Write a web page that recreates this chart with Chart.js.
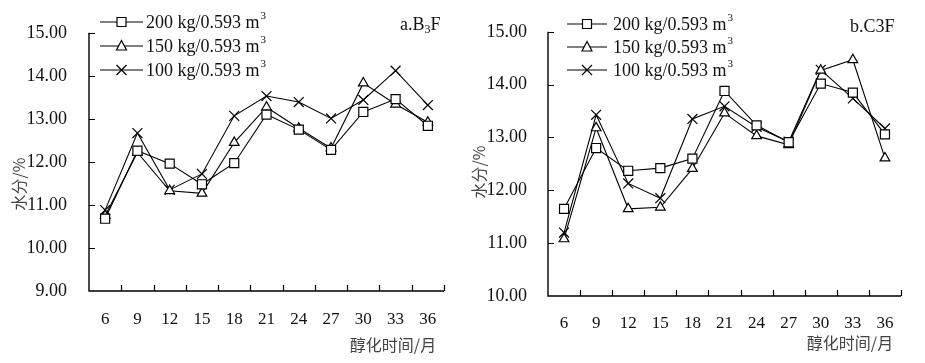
<!DOCTYPE html>
<html>
<head>
<meta charset="utf-8">
<script src="https://cdn.jsdelivr.net/npm/chart.js@4/dist/chart.umd.min.js"></script>
<style>
  body { margin: 0; background: #fff; }
  #wrap { position: relative; width: 925px; height: 363px; }
  .box { position: absolute; top: 0; height: 363px; }
  #boxA { left: 0; width: 460px; }
  #boxB { left: 460px; width: 465px; }
</style>
</head>
<body>
<div id="wrap">
  <div class="box" id="boxA"><canvas id="chartA"></canvas></div>
  <div class="box" id="boxB"><canvas id="chartB"></canvas></div>
</div>
<script>
// 醇化时间（月）
const MONTHS = ['6', '9', '12', '15', '18', '21', '24', '27', '30', '33', '36'];
const SERIES_NAMES = ['200 kg/0.593 m', '150 kg/0.593 m', '100 kg/0.593 m'];
const POINT_STYLES = ['rect', 'triangle', 'crossRot'];

// a.B3F 水分/%
const B3F_200 = [10.68, 12.26, 11.96, 11.48, 11.97, 13.10, 12.75, 12.28, 13.16, 13.46, 12.84];
const B3F_150 = [10.75, 12.22, 11.33, 11.27, 12.45, 13.27, 12.78, 12.32, 13.83, 13.34, 12.92];
const B3F_100 = [10.88, 12.67, 11.35, 11.72, 13.07, 13.53, 13.39, 13.01, 13.44, 14.12, 13.32];

// b.C3F 水分/%
const C3F_200 = [11.65, 12.80, 12.37, 12.42, 12.60, 13.88, 13.23, 12.91, 14.02, 13.85, 13.06];
const C3F_150 = [11.08, 13.18, 11.65, 11.68, 12.41, 13.46, 13.03, 12.86, 14.27, 14.47, 12.61];
const C3F_100 = [11.20, 13.43, 12.13, 11.85, 13.35, 13.59, 13.20, 12.92, 14.28, 13.74, 13.17];

const SERIF = '"Liberation Serif", "DejaVu Serif", serif';
const CJK = '"Noto Sans CJK SC", sans-serif';

function drawMarker(ctx, style, x, y) {
  ctx.save();
  ctx.strokeStyle = '#000';
  ctx.fillStyle = '#fff';
  ctx.lineWidth = 1.2;
  ctx.beginPath();
  if (style === 'rect') {
    ctx.rect(x - 4.5, y - 4.5, 9, 9);
    ctx.fill();
    ctx.stroke();
  } else if (style === 'triangle') {
    ctx.moveTo(x, y - 5.5);
    ctx.lineTo(x + 5, y + 4);
    ctx.lineTo(x - 5, y + 4);
    ctx.closePath();
    ctx.fill();
    ctx.stroke();
  } else {
    ctx.moveTo(x - 5, y - 5);
    ctx.lineTo(x + 5, y + 5);
    ctx.moveTo(x + 5, y - 5);
    ctx.lineTo(x - 5, y + 5);
    ctx.stroke();
  }
  ctx.restore();
}

function decorPlugin(cfg) {
  return {
    id: 'decor',
    afterDraw(chart) {
      const ctx = chart.ctx;
      const area = chart.chartArea;
      const xs = chart.scales.x;
      const ys = chart.scales.y;
      ctx.save();
      ctx.strokeStyle = '#000';
      ctx.lineWidth = 1.4;
      ctx.beginPath();
      ctx.moveTo(area.left, area.top);
      ctx.lineTo(area.left, area.bottom);
      ctx.lineTo(area.right, area.bottom);
      ctx.stroke();

      // inward tick marks
      ctx.lineWidth = 1.2;
      ctx.beginPath();
      ys.ticks.forEach((t) => {
        if (t.value === ys.min) return;
        const py = Math.round(ys.getPixelForValue(t.value)) + 0.5;
        ctx.moveTo(area.left, py);
        ctx.lineTo(area.left + 6, py);
      });
      const half = (xs.getPixelForValue(1) - xs.getPixelForValue(0)) / 2;
      MONTHS.forEach((m, i) => {
        const px = Math.round(xs.getPixelForValue(i) + half) + 0.5;
        ctx.moveTo(px, area.bottom);
        ctx.lineTo(px, area.bottom - 6);
      });
      ctx.stroke();

      // legend
      ctx.textBaseline = 'middle';
      ctx.textAlign = 'left';
      SERIES_NAMES.forEach((name, i) => {
        const y = cfg.legendRows[i];
        ctx.strokeStyle = '#000';
        ctx.lineWidth = 1.2;
        ctx.beginPath();
        ctx.moveTo(cfg.legendX0, y);
        ctx.lineTo(cfg.legendX1, y);
        ctx.stroke();
        drawMarker(ctx, POINT_STYLES[i], (cfg.legendX0 + cfg.legendX1) / 2, y);
        ctx.fillStyle = '#111';
        ctx.font = '18px ' + SERIF;
        ctx.fillText(name, cfg.legendText, y + 1);
        const w = ctx.measureText(name).width;
        ctx.font = '11px ' + SERIF;
        ctx.fillText('3', cfg.legendText + w + 1, y - 6);
      });

      // panel label with subscript
      ctx.fillStyle = '#111';
      ctx.font = '18px ' + SERIF;
      let x = cfg.panelX;
      cfg.panelParts.forEach((p) => {
        ctx.font = (p.sub ? '12px ' : '18px ') + SERIF;
        ctx.fillText(p.t, x, cfg.panelY + (p.sub ? 5 : 0));
        x += ctx.measureText(p.t).width;
      });

      // axis titles
      ctx.fillStyle = '#444';
      ctx.font = '16px ' + CJK;
      ctx.textAlign = 'center';
      ctx.fillText('醇化时间/月', cfg.xTitle[0], cfg.xTitle[1]);
      ctx.translate(cfg.yTitle[0], cfg.yTitle[1]);
      ctx.rotate(-Math.PI / 2);
      ctx.fillText('水分/%', 0, 0);
      ctx.restore();
    }
  };
}

function makeChart(id, values, cfg) {
  const datasets = values.map((vals, i) => ({
    label: SERIES_NAMES[i],
    data: vals,
    borderColor: '#000',
    borderWidth: 1.1,
    backgroundColor: '#fff',
    pointStyle: POINT_STYLES[i],
    pointRadius: POINT_STYLES[i] === 'rect' ? 6.4 : (POINT_STYLES[i] === 'triangle' ? 5.6 : 7),
    pointBorderColor: '#000',
    pointBackgroundColor: '#fff',
    pointBorderWidth: 1.2,
    tension: 0,
    fill: false
  }));

  return new Chart(document.getElementById(id), {
    type: 'line',
    data: { labels: MONTHS, datasets },
    options: {
      responsive: true,
      maintainAspectRatio: false,
      animation: false,
      layout: { padding: { left: 0, top: cfg.top, right: cfg.right, bottom: 0 } },
      plugins: { legend: { display: false }, tooltip: { enabled: false } },
      scales: {
        x: {
          type: 'category',
          offset: true,
          grid: { display: false, drawTicks: false },
          border: { display: false },
          ticks: {
            color: '#111',
            font: { family: SERIF, size: 17 },
            padding: cfg.xPad,
            maxRotation: 0,
            autoSkip: false
          },
          afterFit(s) { s.height = cfg.xHeight; }
        },
        y: {
          min: cfg.yMin,
          max: 15,
          grid: { display: false, drawTicks: false },
          border: { display: false },
          ticks: {
            stepSize: 1,
            color: '#111',
            font: { family: SERIF, size: 18 },
            padding: cfg.yPad,
            callback: (v) => Number(v).toFixed(2)
          },
          afterFit(s) { s.width = cfg.yWidth; }
        }
      }
    },
    plugins: [decorPlugin(cfg)]
  });
}

makeChart('chartA', [B3F_200, B3F_150, B3F_100], {
  top: 24, right: 16, xHeight: 72, yWidth: 89, yMin: 9, xPad: 18, yPad: 22,
  legendRows: [22, 46, 70], legendX0: 100, legendX1: 143, legendText: 146,
  panelX: 400, panelY: 25, panelParts: [{ t: 'a.B' }, { t: '3', sub: true }, { t: 'F' }],
  xTitle: [393, 345], yTitle: [19, 184]
});

makeChart('chartB', [C3F_200, C3F_150, C3F_100], {
  top: 27, right: 24, xHeight: 67, yWidth: 88, yMin: 10, xPad: 17, yPad: 21,
  legendRows: [24, 47, 70], legendX0: 107, legendX1: 147, legendText: 153,
  panelX: 390, panelY: 27, panelParts: [{ t: 'b.C3F' }],
  xTitle: [390, 343], yTitle: [19, 172]
});
</script>
</body>
</html>
